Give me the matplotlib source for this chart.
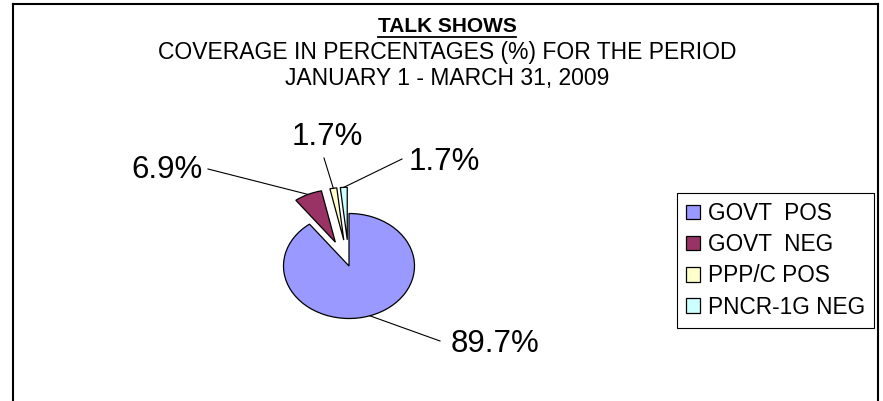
import matplotlib
matplotlib.use("Agg")
import matplotlib.pyplot as plt
from matplotlib.lines import Line2D
import numpy as np

# Coverage shares (percent)
categories = ["GOVT  POS", "GOVT  NEG", "PPP/C POS", "PNCR-1G NEG"]
values = [89.7, 6.9, 1.7, 1.7]
colors = ["#9999FF", "#993366", "#FFFFCC", "#CCFFFF"]
explode = [0.0, 0.5, 0.5, 0.5]

title_main = "TALK SHOWS"
title_sub = ["COVERAGE IN PERCENTAGES (%) FOR THE PERIOD",
             "JANUARY 1 - MARCH 31, 2009"]

W, H = 883, 401
FONT = "Liberation Sans"
plt.rcParams["font.family"] = [FONT, "DejaVu Sans"]

fig = plt.figure(figsize=(W / 100, H / 100), dpi=100)
fig.patch.set_facecolor("white")

# pie centre and radii in pixels (ellipse, wider than tall)
cx, cy, rx, ry = 349.0, 266.0, 65.5, 52.5

ax = fig.add_axes([0, 0, 1, 1])
wedges, _ = ax.pie(values, colors=colors, explode=explode, startangle=90,
                   counterclock=False,
                   wedgeprops=dict(edgecolor="black", linewidth=0.9))
ax.set_aspect("auto")
ax.set_xlim(-cx / rx, (W - cx) / rx)
ax.set_ylim(-(H - cy) / ry, cy / ry)
ax.axis("off")


def px(x, y):
    """pixel position (from top-left) -> pie data coordinates"""
    return (x - cx) / rx, (cy - y) / ry


# value labels with leader lines
label_pos = [  # (text anchor px, ha, leader end px)
    ((451, 344), "left", (440, 341)),
    ((203, 170), "right", (208, 169)),
    ((327, 137), "center", (324, 158)),
    ((409, 162), "left", (402, 159)),
]
for w, v, e, (tpos, ha, lend) in zip(wedges, values, explode, label_pos):
    mid = np.deg2rad((w.theta1 + w.theta2) / 2)
    r = 1.0 + e
    anchor = (r * np.cos(mid), r * np.sin(mid))
    ax.add_line(Line2D([anchor[0], px(*lend)[0]], [anchor[1], px(*lend)[1]],
                       color="black", linewidth=0.8))
    ax.text(*px(*tpos), f"{v:.1f}%", ha=ha, va="center", fontsize=22.5,
            color="black")

# titles
t1 = fig.text(447 / W, 1 - 26 / H, title_main, ha="center", va="center",
              fontsize=15, fontweight="bold")
for i, s in enumerate(title_sub):
    fig.text(447 / W, 1 - (53 + 25 * i) / H, s, ha="center", va="center",
             fontsize=16.5)

fig.canvas.draw()
bb = t1.get_window_extent()
uy = bb.y0 - 1.0
fig.add_artist(Line2D([bb.x0 / W, bb.x1 / W], [uy / H, uy / H],
                      color="black", linewidth=1.3))

# legend
leg = ax.legend(wedges, categories, loc="upper left",
                bbox_to_anchor=(677 / W, 1 - 193 / H),
                bbox_transform=fig.transFigure,
                fontsize=16.3, frameon=True, fancybox=False,
                edgecolor="black", framealpha=1, borderpad=0.4,
                handlelength=0.6, handleheight=0.6, handletextpad=0.35,
                labelspacing=0.36, borderaxespad=0)
leg.get_frame().set_linewidth(0.8)

# outer chart frame
for xs, ys in [([13, 13], [4, H]), ([13, 878], [4, 4]), ([878, 878], [4, H])]:
    fig.add_artist(Line2D([x / W for x in xs], [1 - y / H for y in ys],
                          color="black", linewidth=1.5))

fig.savefig("out.png", dpi=100, facecolor="white")
